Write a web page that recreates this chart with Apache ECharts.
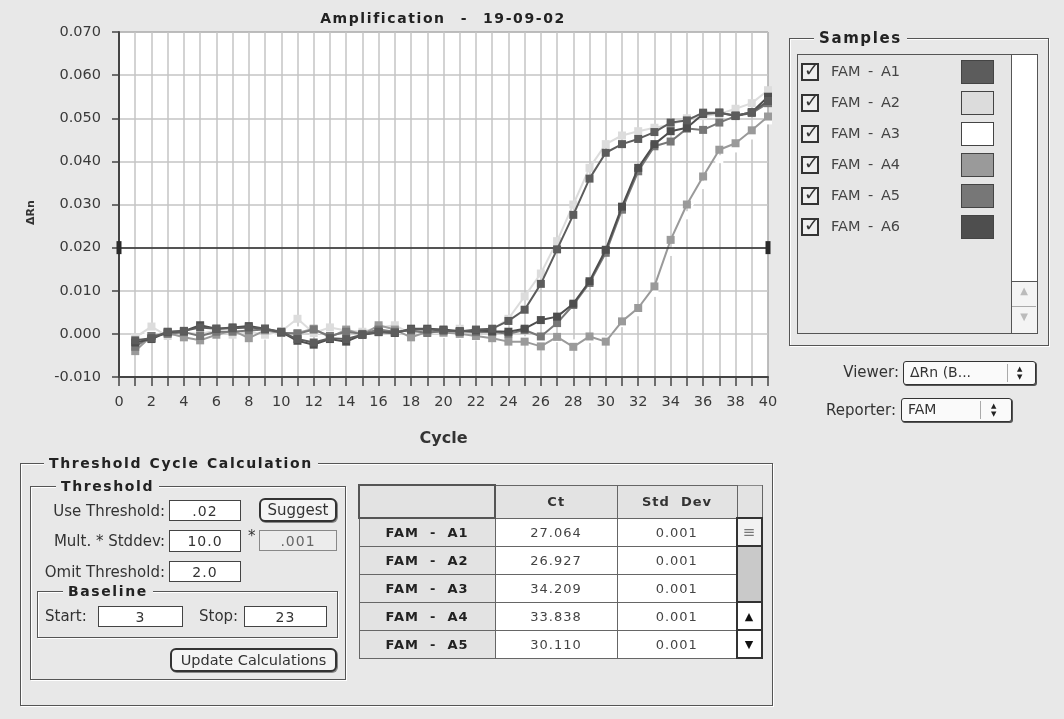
<!DOCTYPE html>
<html>
<head>
<meta charset="utf-8">
<title>Amplification - 19-09-02</title>
<script src="https://cdn.jsdelivr.net/npm/echarts@6/dist/echarts.min.js"></script>
<style>
  html, body { margin: 0; padding: 0; }
  body {
    width: 1064px; height: 719px; position: relative; overflow: hidden;
    background: #e8e8e8; font-family: "DejaVu Sans", sans-serif; font-size: 15px; color: #333;
  }
  #chart { position: absolute; left: 0; top: 0; width: 1064px; height: 719px; }
  .abs { position: absolute; }
  .group {
    position: absolute; border: 1px solid #555;
    box-shadow: inset 1px 1px 0 #fff, 1px 1px 0 #fff;
  }
  .gtitle {
    position: absolute; background: #e8e8e8; font-weight: bold; font-size: 14px;
    padding: 0 5px; letter-spacing: 1.6px; word-spacing: 1px; color: #222; line-height: 16px;
  }
  .charttitle {
    position: absolute; left: 243px; width: 400px; top: 10px; text-align: center;
    font-weight: bold; font-size: 14px; letter-spacing: 1.6px; word-spacing: 1px; color: #222;
    white-space: pre;
  }
  .lbl { position: absolute; white-space: nowrap; line-height: 17px; }
  .input {
    position: absolute; background: #fff; border: 1px solid #444; box-sizing: border-box;
    text-align: center; line-height: 20px; letter-spacing: 1px; color: #333; font-size: 14px;
  }
  .btn {
    position: absolute; box-sizing: border-box; border: 2px solid #333; border-radius: 6px;
    background: #f4f4f4; text-align: center; color: #333; box-shadow: 1px 1px 0 #888;
  }
  .chk {
    position: absolute; width: 18px; height: 18px; box-sizing: border-box;
    border: 2px solid #333; background: #eee;
  }
  .chk span {
    position: absolute; left: 1px; top: -6px; font-size: 18px; font-weight: bold; color: #333;
  }
  .swatch { position: absolute; width: 33px; height: 24px; box-sizing: border-box; border: 1px solid #444; }
  .popup {
    position: absolute; box-sizing: border-box; height: 24px; border: 1px solid #333;
    border-radius: 3px; background: #fafafa; box-shadow: 1px 1px 0 #555;
  }
  .popup .txt { position: absolute; left: 6px; top: 2px; font-size: 14px; }
  .popup .div { position: absolute; top: 2px; bottom: 2px; width: 1px; background: #aaa; }
  .arrows { position: absolute; top: 3px; font-size: 7px; line-height: 8px; color: #222; }
  table.ct { position: absolute; left: 358px; top: 484px; border-collapse: collapse; font-size: 13px; }
  table.ct td {
    border: 1px solid #666; padding: 0; text-align: center; box-sizing: border-box;
    letter-spacing: 1px;
  }
  td.rh { background: #e3e3e3; font-weight: bold; color: #222; }
  td.dc { background: #fff; color: #444; }
  td.hd { background: #e3e3e3; font-weight: bold; color: #333; }
</style>
</head>
<body>
<div id="chart"></div>
<div id="ui"></div>
<script>
// Cycle numbers (x values)
const cycles = [1, 2, 3, 4, 5, 6, 7, 8, 9, 10, 11, 12, 13, 14, 15, 16, 17, 18, 19, 20,
                21, 22, 23, 24, 25, 26, 27, 28, 29, 30, 31, 32, 33, 34, 35, 36, 37, 38, 39, 40];

// Delta Rn readings per well, one value per cycle
const famA1 = [-0.0015, -0.0010, 0.0005, 0.0007, 0.0015, 0.0012, 0.0013, 0.0015, 0.0012, 0.0005,
               -0.0012, -0.0020, -0.0010, -0.0012, -0.0002, 0.0005, 0.0003, 0.0010, 0.0010, 0.0008,
               0.0005, 0.0010, 0.0012, 0.0030, 0.0056, 0.0116, 0.0196, 0.0276, 0.0360, 0.0420,
               0.0440, 0.0452, 0.0468, 0.0490, 0.0495, 0.0513, 0.0513, 0.0506, 0.0514, 0.0540];
const famA2 = [-0.0008, 0.0017, -0.0005, 0.0003, 0.0000, 0.0008, -0.0002, 0.0005, -0.0002, 0.0006,
               0.0035, 0.0002, 0.0015, 0.0008, 0.0005, 0.0015, 0.0020, 0.0000, 0.0008, 0.0002,
               0.0012, 0.0003, 0.0010, 0.0035, 0.0087, 0.0140, 0.0215, 0.0300, 0.0385, 0.0440,
               0.0460, 0.0470, 0.0478, 0.0485, 0.0500, 0.0505, 0.0510, 0.0522, 0.0535, 0.0565];
const famA3 = [-0.0010, 0.0005, 0.0002, -0.0003, 0.0004, 0.0000, 0.0006, 0.0002, -0.0004, 0.0003,
               0.0008, 0.0004, 0.0000, 0.0006, 0.0002, 0.0007, 0.0004, 0.0001, 0.0005, 0.0000,
               -0.0003, -0.0006, -0.0008, -0.0012, -0.0015, -0.0020, -0.0010, -0.0022, -0.0012, -0.0015,
               0.0025, 0.0050, 0.0095, 0.0190, 0.0275, 0.0345, 0.0405, 0.0430, 0.0460, 0.0495];
const famA4 = [-0.0040, -0.0005, 0.0002, -0.0008, -0.0015, -0.0002, 0.0008, -0.0010, 0.0008, 0.0002,
               0.0002, 0.0012, -0.0008, 0.0010, -0.0002, 0.0020, 0.0010, -0.0008, 0.0005, 0.0003,
               0.0000, -0.0005, -0.0010, -0.0018, -0.0018, -0.0029, -0.0007, -0.0030, -0.0006, -0.0018,
               0.0029, 0.0060, 0.0110, 0.0218, 0.0300, 0.0365, 0.0427, 0.0442, 0.0472, 0.0504];
const famA5 = [-0.0030, -0.0005, 0.0000, 0.0004, -0.0005, 0.0005, 0.0005, 0.0008, 0.0010, 0.0003,
               0.0000, 0.0010, -0.0005, 0.0005, 0.0000, 0.0010, 0.0005, 0.0008, 0.0002, 0.0008,
               0.0006, 0.0004, 0.0005, 0.0000, 0.0009, -0.0006, 0.0025, 0.0067, 0.0118, 0.0188,
               0.0288, 0.0377, 0.0435, 0.0446, 0.0476, 0.0473, 0.0490, 0.0505, 0.0512, 0.0535];
const famA6 = [-0.0020, -0.0012, 0.0004, 0.0006, 0.0020, 0.0012, 0.0015, 0.0018, 0.0012, 0.0004,
               -0.0016, -0.0025, -0.0012, -0.0018, -0.0002, 0.0004, 0.0002, 0.0012, 0.0012, 0.0010,
               0.0006, 0.0008, 0.0006, 0.0005, 0.0012, 0.0032, 0.0040, 0.0070, 0.0122, 0.0195,
               0.0295, 0.0385, 0.0440, 0.0470, 0.0478, 0.0510, 0.0513, 0.0506, 0.0514, 0.0550];

const sampleNames = ["FAM - A1", "FAM - A2", "FAM - A3", "FAM - A4", "FAM - A5", "FAM - A6"];
const sampleColors = ["#5c5c5c", "#dcdcdc", "#ffffff", "#9a9a9a", "#777777", "#4e4e4e"];
const sampleValues = [famA1, famA2, famA3, famA4, famA5, famA6];
// drawing order: light wells underneath, dark wells on top
const drawOrder = [2, 1, 3, 4, 5, 0];

const thresholdValue = 0.02;

// Threshold cycle results table
const tableRows = ["FAM - A1", "FAM - A2", "FAM - A3", "FAM - A4", "FAM - A5"];
const ctValues = ["27.064", "26.927", "34.209", "33.838", "30.110"];
const stdDevValues = ["0.001", "0.001", "0.001", "0.001", "0.001"];

const FONT = "DejaVu Sans";

const chart = echarts.init(document.getElementById('chart'), null, { renderer: 'canvas' });

const series = drawOrder.map((idx, k) => ({
  name: sampleNames[idx],
  type: 'line',
  data: cycles.map((c, i) => [c, sampleValues[idx][i]]),
  symbol: 'rect',
  symbolSize: 8,
  showAllSymbol: true,
  z: 2 + k,
  lineStyle: { color: sampleColors[idx], width: 2 },
  itemStyle: { color: sampleColors[idx] },
  emphasis: { disabled: true },
  markLine: k === 0 ? {
    silent: true,
    symbol: ['rect', 'rect'],
    symbolSize: [13, 5],
    label: { show: false },
    lineStyle: { color: '#2a2a2a', width: 1.5, type: 'solid' },
    itemStyle: { color: '#111' },
    data: [{ yAxis: thresholdValue }]
  } : undefined
}));

chart.setOption({
  animation: false,
  backgroundColor: 'transparent',
  grid: {
    left: 119, right: 296, top: 32, bottom: 342,
    show: true, backgroundColor: '#ffffff', borderColor: '#555', borderWidth: 1
  },
  xAxis: {
    type: 'value', min: 0, max: 40, interval: 1,
    name: 'Cycle', nameLocation: 'middle', nameGap: 54,
    nameTextStyle: { fontFamily: FONT, fontSize: 16, fontWeight: 'bold', color: '#333' },
    axisLine: { show: true, onZero: false, lineStyle: { color: '#444', width: 2 } },
    axisTick: { show: true, length: 9, lineStyle: { color: '#444', width: 1.5 } },
    axisLabel: {
      margin: 18, fontFamily: FONT, fontSize: 14.5, color: '#3a3a3a',
      formatter: v => (v % 2 === 0 ? String(v) : '')
    },
    splitLine: { show: true, lineStyle: { color: '#c4c4c4', width: 1.5 } }
  },
  yAxis: {
    type: 'value', min: -0.01, max: 0.07, interval: 0.01,
    name: 'ΔRn', nameLocation: 'middle', nameGap: 82, nameRotate: 90,
    nameTextStyle: { fontFamily: FONT, fontSize: 11, fontWeight: 'bold', color: '#333', padding: [0, 16, 0, 0] },
    axisLine: { show: true, lineStyle: { color: '#444', width: 2 } },
    axisTick: { show: true, length: 7, lineStyle: { color: '#444', width: 1.5 } },
    axisLabel: {
      margin: 18, fontFamily: FONT, fontSize: 14.5, color: '#3a3a3a',
      formatter: v => v.toFixed(3)
    },
    splitLine: { show: true, lineStyle: { color: '#c4c4c4', width: 1.5 } }
  },
  series: series
});

// ---- Surrounding controls (title, samples list, viewer popups, threshold panel, Ct table) ----
const ui = document.getElementById('ui');
function el(html) { ui.insertAdjacentHTML('beforeend', html); }

el('<div class="charttitle">Amplification  -  19-09-02</div>');

// Samples group
el('<div class="group" style="left:789px;top:38px;width:258px;height:306px"></div>');
el('<div class="gtitle" style="left:814px;top:30px;font-size:15px">Samples</div>');
el('<div class="abs" style="left:797px;top:54px;width:239px;height:278px;border:1px solid #555;background:#e6e6e6"></div>');
el('<div class="abs" style="left:1011px;top:55px;width:25px;height:278px;border-left:1px solid #555;background:#fff"></div>');
el('<div class="abs" style="left:1011px;top:281px;width:25px;height:51px;border-left:1px solid #555;border-top:1px solid #555;background:#f4f4f4"></div>');
el('<div class="abs" style="left:1012px;top:306px;width:24px;height:1px;background:#aaa"></div>');
el('<div class="abs" style="left:1012px;top:285px;width:24px;text-align:center;font-size:10px;color:#bbb">▲</div>');
el('<div class="abs" style="left:1012px;top:311px;width:24px;text-align:center;font-size:10px;color:#bbb">▼</div>');
sampleNames.forEach((name, i) => {
  const cy = 72 + 31 * i;
  el(`<div class="chk" style="left:801px;top:${cy - 9}px"><span>✓</span></div>`);
  el(`<div class="lbl" style="left:831px;top:${cy - 9}px;color:#444;word-spacing:3px;font-size:14.5px">${name}</div>`);
  el(`<div class="swatch" style="left:961px;top:${cy - 12}px;background:${sampleColors[i]}"></div>`);
});

// Viewer / Reporter popups
el('<div class="lbl" style="right:165px;top:364px">Viewer:</div>');
el('<div class="popup" style="left:903px;top:361px;width:133px"><span class="txt">ΔRn (B...</span>' +
   '<span class="div" style="left:103px"></span><span class="arrows" style="left:113px">▲<br>▼</span></div>');
el('<div class="lbl" style="right:168px;top:402px">Reporter:</div>');
el('<div class="popup" style="left:901px;top:398px;width:111px"><span class="txt">FAM</span>' +
   '<span class="div" style="left:78px"></span><span class="arrows" style="left:89px">▲<br>▼</span></div>');

// Threshold Cycle Calculation group
el('<div class="group" style="left:20px;top:463px;width:751px;height:241px"></div>');
el('<div class="gtitle" style="left:44px;top:455px">Threshold Cycle Calculation</div>');
el('<div class="group" style="left:30px;top:486px;width:314px;height:192px"></div>');
el('<div class="gtitle" style="left:56px;top:478px">Threshold</div>');

el('<div class="lbl" style="right:899px;top:503px">Use Threshold:</div>');
el('<div class="input" style="left:169px;top:500px;width:72px;height:21px">.02</div>');
el('<div class="btn" style="left:259px;top:498px;width:78px;height:24px;line-height:20px">Suggest</div>');

el('<div class="lbl" style="right:899px;top:533px">Mult. * Stddev:</div>');
el('<div class="input" style="left:169px;top:530px;width:72px;height:22px">10.0</div>');
el('<div class="lbl" style="left:248px;top:528px">*</div>');
el('<div class="input" style="left:259px;top:530px;width:78px;height:21px;border-color:#888;background:#ececec;color:#666">.001</div>');

el('<div class="lbl" style="right:899px;top:564px">Omit Threshold:</div>');
el('<div class="input" style="left:169px;top:561px;width:72px;height:21px">2.0</div>');

el('<div class="group" style="left:37px;top:591px;width:299px;height:45px"></div>');
el('<div class="gtitle" style="left:63px;top:583px">Baseline</div>');
el('<div class="lbl" style="left:45px;top:608px">Start:</div>');
el('<div class="input" style="left:98px;top:606px;width:85px;height:21px">3</div>');
el('<div class="lbl" style="left:199px;top:608px">Stop:</div>');
el('<div class="input" style="left:244px;top:606px;width:83px;height:21px">23</div>');

el('<div class="btn" style="left:170px;top:648px;width:167px;height:24px;line-height:20px;font-size:14.5px">Update Calculations</div>');

// Ct table
let rowsHtml = '<tr style="height:33px"><td class="hd" style="width:136px;border:2px solid #555"></td>' +
  '<td class="hd" style="width:122px">Ct</td><td class="hd" style="width:120px">Std&nbsp; Dev</td>' +
  '<td class="hd" style="width:25px;border-top:1px solid #888"></td></tr>';
tableRows.forEach((name, i) => {
  let sb = '';
  if (i === 0) sb = '<td style="background:#f2f2f2;border:2px solid #333;color:#777;font-size:15px">≡</td>';
  else if (i === 1) sb = '<td rowspan="2" style="background:#c9c9c9;border-left:2px solid #333;border-right:2px solid #333"></td>';
  else if (i === 3) sb = '<td style="background:#fff;border:2px solid #333;font-size:11px;color:#111">▲</td>';
  else if (i === 4) sb = '<td style="background:#fff;border:2px solid #333;font-size:11px;color:#111">▼</td>';
  rowsHtml += `<tr style="height:28px"><td class="rh">${name.replace(/ - /, '&nbsp; - &nbsp;')}</td>` +
    `<td class="dc">${ctValues[i]}</td><td class="dc">${stdDevValues[i]}</td>${sb}</tr>`;
});
el(`<table class="ct">${rowsHtml}</table>`);
</script>
</body>
</html>
